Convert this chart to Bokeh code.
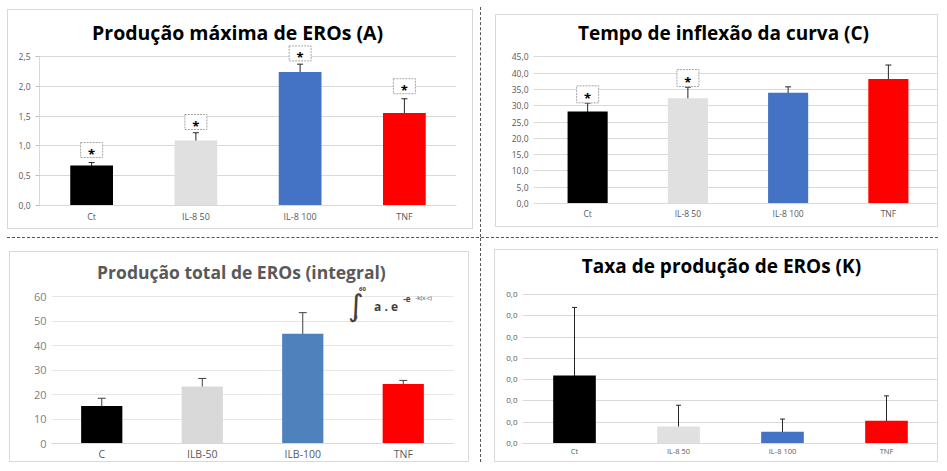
from bokeh.plotting import figure
from bokeh.models import (ColumnDataSource, FactorRange, Range1d, FixedTicker, CustomJSTickFormatter,
                          Whisker, TeeHead, Label, Div)
from bokeh.layouts import column, row
from bokeh.core.properties import value
from bokeh.embed import file_html
from bokeh.resources import INLINE

# ---------------- data ----------------
cats = ["Ct", "IL-8 50", "IL-8 100", "TNF"]
cats_b = ["C", "ILB-50", "ILB-100", "TNF"]
colors = ["#000000", "#e0e0e0", "#4472c4", "#ff0000"]
colors_b = ["#000000", "#d9d9d9", "#4f81bd", "#ff0000"]

a_vals = [0.67, 1.09, 2.24, 1.55]
a_err = [0.05, 0.13, 0.13, 0.24]
a_star = [0.93, 1.40, 2.55, 2.00]
a_ticks = [0, 0.5, 1.0, 1.5, 2.0, 2.5]

c_vals = [28.2, 32.3, 34.0, 38.2]
c_err = [2.6, 3.4, 1.8, 4.3]
c_star_cats = ["Ct", "IL-8 50"]
c_star = [33.5, 38.5]
c_ticks = [0, 5, 10, 15, 20, 25, 30, 35, 40, 45]

b_vals = [15.3, 23.3, 44.9, 24.3]
b_err = [3.2, 3.3, 8.6, 1.5]
b_ticks = [0, 10, 20, 30, 40, 50, 60]

k_vals = [0.0032, 0.0008, 0.00055, 0.00107]
k_err = [0.0032, 0.0010, 0.0006, 0.00117]
k_ticks = [0, 0.001, 0.002, 0.003, 0.004, 0.005, 0.006, 0.007]

FONT = "Open Sans"
comma_fmt = CustomJSTickFormatter(code="return tick.toFixed(1).replace('.', ',');")


def make_fig(xcats, w, h, ymax, mbl, mbr, mbb):
    p = figure(x_range=FactorRange(*xcats, range_padding=0), y_range=Range1d(0, ymax),
               width=w, height=h, output_backend="svg", toolbar_location=None, title=None,
               min_border_left=mbl, min_border_right=mbr, min_border_top=0, min_border_bottom=mbb,
               background_fill_color="white", border_fill_color="white",
               styles={"border": "1px solid #d9d9d9"})
    p.outline_line_color = None
    p.xgrid.grid_line_color = None
    p.ygrid.grid_line_color = "#d9d9d9"
    p.ygrid.grid_line_width = 1
    p.xaxis.axis_line_color = "#d9d9d9"
    p.xaxis.major_tick_line_color = None
    p.xaxis.major_tick_out = 0
    p.xaxis.major_tick_in = 0
    p.xaxis.minor_tick_line_color = None
    p.xaxis.major_label_text_font = FONT
    p.xaxis.major_label_text_color = "#595959"
    p.yaxis.major_label_text_font = FONT
    p.yaxis.major_label_text_color = "#595959"
    p.yaxis.minor_tick_line_color = None
    return p


def add_title(p, text, x, y, size="19px", color="#000000"):
    p.add_layout(Label(x=x, y=y, text=text, text_font=FONT, text_font_size=size, text_font_style="bold",
                       text_color=color, text_align="center", text_baseline="middle"))


def add_bars(p, xcats, vals, errs, cols, width, whisk_color="#262626", head=6, clip0=False):
    lower = [max(0.0, v - e) if clip0 else v - e for v, e in zip(vals, errs)]
    upper = [v + e for v, e in zip(vals, errs)]
    src = ColumnDataSource(dict(x=xcats, top=vals, color=cols, lower=lower, upper=upper))
    p.vbar(x="x", top="top", width=width, fill_color="color", line_color=None, source=src)
    wk = Whisker(source=src, base="x", upper="upper", lower="lower", line_color=whisk_color, line_width=1,
                 upper_head=TeeHead(size=head, line_color=whisk_color, line_width=1),
                 lower_head=TeeHead(size=head, line_color=whisk_color, line_width=1))
    p.add_layout(wk)


def add_stars(p, xcats, levels, w=22, h=15):
    src = ColumnDataSource(dict(x=xcats, y=levels, s=["*"] * len(xcats)))
    p.rect(x="x", y="y", width=w, height=h, width_units="screen", height_units="screen",
           fill_color="white", line_color="#a6a6a6", line_dash="2 1", line_width=1, source=src)
    p.text(x="x", y="y", text="s", text_font=value(FONT), text_font_size="13px", text_font_style="bold",
           text_align="center", text_baseline="middle", y_offset=4, text_color="#000000", source=src)


# ---------------- panel A ----------------
pA = make_fig(cats, 466, 220, 3.27, 31, 18, 24)
add_bars(pA, cats, a_vals, a_err, colors, 0.41)
add_stars(pA, cats, a_star)
add_title(pA, "Produção máxima de EROs (A)", 1.90, 2.90, size="19.5px")
pA.yaxis.ticker = FixedTicker(ticks=a_ticks)
pA.yaxis.formatter = comma_fmt
pA.yaxis.bounds = (0, 2.5)
pA.yaxis.axis_line_color = "#d9d9d9"
pA.yaxis.major_tick_line_color = "#bfbfbf"
pA.yaxis.major_tick_out = 4
pA.yaxis.major_tick_in = 0
pA.yaxis.major_label_text_font_size = "8.5px"
pA.xaxis.major_label_text_font_size = "9px"
pA.xaxis.major_label_standoff = 4
pA.margin = (2, 0, 0, 0)

# ---------------- panel C ----------------
pC = make_fig(cats, 443, 213, 57.7, 41, 1, 25)
add_bars(pC, cats, c_vals, c_err, colors, 0.40)
add_stars(pC, c_star_cats, c_star, 22, 17)
add_title(pC, "Tempo de inflexão da curva (C)", 1.855, 52.45, size="19px")
pC.yaxis.ticker = FixedTicker(ticks=c_ticks)
pC.yaxis.formatter = comma_fmt
pC.yaxis.bounds = (0, 45)
pC.yaxis.axis_line_color = None
pC.yaxis.major_tick_line_color = "#d9d9d9"
pC.yaxis.major_tick_out = 4
pC.yaxis.major_tick_in = 0
pC.yaxis.major_label_text_font_size = "8.5px"
pC.xaxis.major_label_text_font_size = "8.5px"
pC.xaxis.major_label_standoff = 4
pC.margin = (7, 0, 0, 14)

# ---------------- panel B (integral) ----------------
pB = make_fig(cats_b, 460, 211, 78.1, 41, 17, 18)
add_bars(pB, cats_b, b_vals, b_err, colors_b, 0.41, whisk_color="#404040", head=8)
add_title(pB, "Produção total de EROs (integral)", 1.89, 70.3, size="17.5px", color="#595959")
pB.yaxis.ticker = FixedTicker(ticks=b_ticks)
pB.yaxis.axis_line_color = None
pB.yaxis.major_tick_line_color = None
pB.yaxis.major_tick_out = 0
pB.yaxis.major_label_text_font_size = "11px"
pB.yaxis.major_label_text_color = "#7f7f7f"
pB.xaxis.major_label_text_font_size = "10.5px"
pB.xaxis.major_label_standoff = 3
pB.ygrid.grid_line_color = "#e6e6e6"
pB.margin = (13, 0, 0, 2)
for txt, x, y, size, style, font in [("∫", 2.95, 56.3, "30px", "normal", "DejaVu Sans"),
                                     ("60", 3.06, 63.2, "6px", "bold", FONT),
                                     ("0", 3.01, 51.6, "6px", "bold", FONT),
                                     ("a . e", 3.21, 56.0, "12px", "bold", FONT),
                                     ("-e", 3.50, 58.9, "8px", "bold", FONT),
                                     ("-k(x-c)", 3.62, 59.4, "6px", "normal", FONT)]:
    pB.add_layout(Label(x=x, y=y, text=txt, text_font=font, text_font_size=size, text_font_style=style,
                        text_baseline="middle", text_align="left", text_color="#404040"))

# ---------------- panel K ----------------
pK = make_fig(cats, 444, 213, 0.00908, 27, 1, 14)
add_bars(pK, cats, k_vals, k_err, colors, 0.41, whisk_color="#262626", head=5, clip0=True)
add_title(pK, "Taxa de produção de EROs (K)", 1.913, 0.00833, size="19px")
pK.yaxis.ticker = FixedTicker(ticks=k_ticks)
pK.yaxis.formatter = comma_fmt
pK.yaxis.axis_line_color = None
pK.yaxis.major_tick_line_color = None
pK.yaxis.major_tick_out = 0
pK.yaxis.major_label_text_font_size = "8px"
pK.xaxis.major_label_text_font_size = "7.5px"
pK.xaxis.major_label_standoff = 2
pK.margin = (11, 0, 0, 13)

# ---------------- separators ----------------
v1 = Div(width=1, height=230, margin=(0, 0, 0, 7), styles={"border-left": "1px dashed #555555"})
v2 = Div(width=1, height=224, margin=(0, 0, 0, 11), styles={"border-left": "1px dashed #555555"})
h1 = Div(width=931, height=1, margin=0, styles={"border-top": "1px dashed #555555"})

layout = column(row(pA, v1, pC), h1, row(pB, v2, pK), margin=(7, 0, 0, 7))

open("out.html", "w").write(file_html(layout, INLINE))
